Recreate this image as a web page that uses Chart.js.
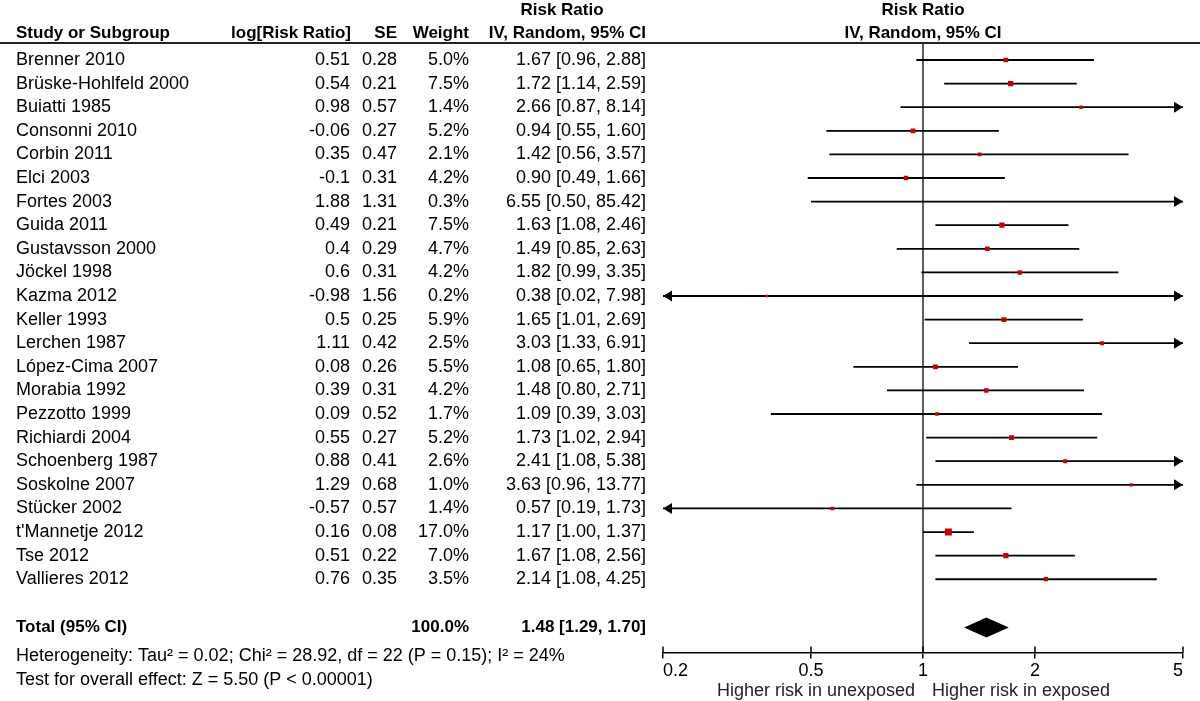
<!DOCTYPE html>
<html>
<head>
<meta charset="utf-8">
<script src="https://cdn.jsdelivr.net/npm/chart.js@4.4.1/dist/chart.umd.min.js"></script>
<style>
  html, body { margin: 0; padding: 0; background: #fff; }
  canvas { display: block; }
</style>
</head>
<body>
<canvas id="forest" width="1200" height="701"></canvas>
<script>
const studies = ['Brenner 2010', 'Brüske-Hohlfeld 2000', 'Buiatti 1985', 'Consonni 2010', 'Corbin 2011',
    'Elci 2003', 'Fortes 2003', 'Guida 2011', 'Gustavsson 2000', 'Jöckel 1998', 'Kazma 2012',
    'Keller 1993', 'Lerchen 1987', 'López-Cima 2007', 'Morabia 1992', 'Pezzotto 1999',
    'Richiardi 2004', 'Schoenberg 1987', 'Soskolne 2007', 'Stücker 2002', "t'Mannetje 2012",
    'Tse 2012', 'Vallieres 2012'];
const logRR = [0.51, 0.54, 0.98, -0.06, 0.35, -0.1, 1.88, 0.49, 0.4, 0.6, -0.98, 0.5, 1.11, 0.08,
    0.39, 0.09, 0.55, 0.88, 1.29, -0.57, 0.16, 0.51, 0.76];
const se = [0.28, 0.21, 0.57, 0.27, 0.47, 0.31, 1.31, 0.21, 0.29, 0.31, 1.56, 0.25, 0.42, 0.26,
    0.31, 0.52, 0.27, 0.41, 0.68, 0.57, 0.08, 0.22, 0.35];
const weights = [5.0, 7.5, 1.4, 5.2, 2.1, 4.2, 0.3, 7.5, 4.7, 4.2, 0.2, 5.9, 2.5, 5.5, 4.2, 1.7,
    5.2, 2.6, 1.0, 1.4, 17.0, 7.0, 3.5];
const rr = [1.67, 1.72, 2.66, 0.94, 1.42, 0.90, 6.55, 1.63, 1.49, 1.82, 0.38, 1.65, 3.03, 1.08,
    1.48, 1.09, 1.73, 2.41, 3.63, 0.57, 1.17, 1.67, 2.14];
const ciLow = [0.96, 1.14, 0.87, 0.55, 0.56, 0.49, 0.50, 1.08, 0.85, 0.99, 0.02, 1.01, 1.33, 0.65,
    0.80, 0.39, 1.02, 1.08, 0.96, 0.19, 1.00, 1.08, 1.08];
const ciHigh = [2.88, 2.59, 8.14, 1.60, 3.57, 1.66, 85.42, 2.46, 2.63, 3.35, 7.98, 2.69, 6.91, 1.80,
    2.71, 3.03, 2.94, 5.38, 13.77, 1.73, 1.37, 2.56, 4.25];

const total = [1.48, 1.29, 1.70];   // RR, low, high
const totalWeight = '100.0%';
const xTicks = [0.2, 0.5, 1, 2, 5];
const heterogeneity = 'Heterogeneity: Tau² = 0.02; Chi² = 28.92, df = 22 (P = 0.15); I² = 24%';
const overallEffect = 'Test for overall effect: Z = 5.50 (P < 0.00001)';

// row positions on the y scale
const totalRow = 24.05, hetRow = 25.25, testRow = 26.25;
const yMin = -0.72, yMax = 25.1;

const FONT = '"Liberation Sans", Arial, sans-serif';
const REG = '18px ' + FONT;
const BOLD = 'bold 17px ' + FONT;

const ciSets = studies.map((s, i) => ({
    label: s,
    data: [{x: ciLow[i], y: i}, {x: ciHigh[i], y: i}],
    showLine: true,
    borderColor: '#000',
    borderWidth: 1.8,
    pointRadius: 0,
    order: 2
}));

const forestText = {
    id: 'forestText',
    afterDraw(chart) {
        const ctx = chart.ctx;
        const x = chart.scales.x, y = chart.scales.y;
        const area = chart.chartArea;
        ctx.save();
        ctx.fillStyle = '#000';
        ctx.textBaseline = 'middle';

        function text(str, px, row, align, font) {
            ctx.font = font;
            ctx.textAlign = align;
            ctx.fillText(str, px, y.getPixelForValue(row));
        }

        // headers
        text('Risk Ratio', 562, -2.12, 'center', BOLD);
        text('Study or Subgroup', 16, -1.12, 'left', BOLD);
        text('log[Risk Ratio]', 351, -1.12, 'right', BOLD);
        text('SE', 397, -1.12, 'right', BOLD);
        text('Weight', 469, -1.12, 'right', BOLD);
        text('IV, Random, 95% CI', 646, -1.12, 'right', BOLD);
        const mid = (area.left + area.right) / 2;
        text('Risk Ratio', mid, -2.12, 'center', BOLD);
        text('IV, Random, 95% CI', mid, -1.12, 'center', BOLD);

        // header rule
        ctx.strokeStyle = '#222';
        ctx.lineWidth = 2;
        ctx.beginPath();
        ctx.moveTo(0, area.top);
        ctx.lineTo(1200, area.top);
        ctx.stroke();

        // study rows
        studies.forEach((s, i) => {
            text(s, 16, i, 'left', REG);
            text(String(logRR[i]), 350, i, 'right', REG);
            text(String(se[i]), 397, i, 'right', REG);
            text(weights[i].toFixed(1) + '%', 469, i, 'right', REG);
            text(rr[i].toFixed(2) + ' [' + ciLow[i].toFixed(2) + ', ' + ciHigh[i].toFixed(2) + ']', 646, i, 'right', REG);
        });

        // total
        text('Total (95% CI)', 16, totalRow, 'left', BOLD);
        text(totalWeight, 469, totalRow, 'right', BOLD);
        text(total[0].toFixed(2) + ' [' + total[1].toFixed(2) + ', ' + total[2].toFixed(2) + ']', 646, totalRow, 'right', BOLD);
        text(heterogeneity, 16, hetRow, 'left', REG);
        text(overallEffect, 16, testRow, 'left', REG);

        // arrows for intervals beyond the axis
        ctx.fillStyle = '#000';
        studies.forEach((s, i) => {
            const py = y.getPixelForValue(i);
            if (ciHigh[i] > x.max) {
                ctx.beginPath();
                ctx.moveTo(area.right, py);
                ctx.lineTo(area.right - 9, py - 5.5);
                ctx.lineTo(area.right - 9, py + 5.5);
                ctx.closePath();
                ctx.fill();
            }
            if (ciLow[i] < x.min) {
                ctx.beginPath();
                ctx.moveTo(area.left, py);
                ctx.lineTo(area.left + 9, py - 5.5);
                ctx.lineTo(area.left + 9, py + 5.5);
                ctx.closePath();
                ctx.fill();
            }
        });

        // pooled diamond
        const ty = y.getPixelForValue(totalRow);
        ctx.beginPath();
        ctx.moveTo(x.getPixelForValue(total[1]), ty);
        ctx.lineTo(x.getPixelForValue(total[0]), ty - 10);
        ctx.lineTo(x.getPixelForValue(total[2]), ty);
        ctx.lineTo(x.getPixelForValue(total[0]), ty + 10);
        ctx.closePath();
        ctx.fill();

        // tick marks crossing the axis line
        ctx.strokeStyle = '#000';
        ctx.lineWidth = 1.5;
        xTicks.forEach(v => {
            const px = x.getPixelForValue(v);
            ctx.beginPath();
            ctx.moveTo(px, area.bottom - 6);
            ctx.lineTo(px, area.bottom);
            ctx.stroke();
        });

        // direction labels
        ctx.fillStyle = '#222';
        ctx.font = REG;
        ctx.textAlign = 'right';
        const one = x.getPixelForValue(1);
        ctx.fillText('Higher risk in unexposed', one - 8, 691);
        ctx.textAlign = 'left';
        ctx.fillText('Higher risk in exposed', one + 9, 691);
        ctx.restore();
    }
};

let ctx1 = document.getElementById('forest').getContext('2d');

let forestChart = new Chart(ctx1, {
    type: 'scatter',
    data: {
        datasets: [
            {
                label: 'Risk Ratio',
                data: rr.map((v, i) => ({x: v, y: i})),
                pointStyle: 'rect',
                pointRadius: weights.map(w => (2 + 1.2 * Math.sqrt(w)) / Math.SQRT2),
                backgroundColor: '#cc0000',
                borderWidth: 0,
                order: 0
            },
            ...ciSets,
            {
                label: 'No effect',
                data: [{x: 1, y: yMin}, {x: 1, y: yMax}],
                showLine: true,
                borderColor: '#333',
                borderWidth: 1.6,
                pointRadius: 0,
                order: 3
            }
        ]
    },
    options: {
        responsive: false,
        animation: false,
        layout: {
            padding: {left: 663, right: 17, top: 43, bottom: 17}
        },
        scales: {
            x: {
                type: 'logarithmic',
                min: 0.2,
                max: 5,
                afterBuildTicks: scale => {
                    scale.ticks = xTicks.map(v => ({value: v}));
                },
                border: {display: true, color: '#000', width: 1.5},
                grid: {drawOnChartArea: false, drawTicks: true, tickLength: 6, color: '#000', lineWidth: 1.5},
                ticks: {
                    color: '#000',
                    font: {family: FONT, size: 18},
                    padding: 2,
                    align: 'inner',
                    maxRotation: 0,
                    autoSkip: false,
                    callback: v => String(v)
                }
            },
            y: {
                type: 'linear',
                reverse: true,
                min: yMin,
                max: yMax,
                display: false
            }
        },
        plugins: {
            legend: {display: false},
            tooltip: {enabled: false}
        }
    },
    plugins: [forestText]
});
</script>
</body>
</html>
